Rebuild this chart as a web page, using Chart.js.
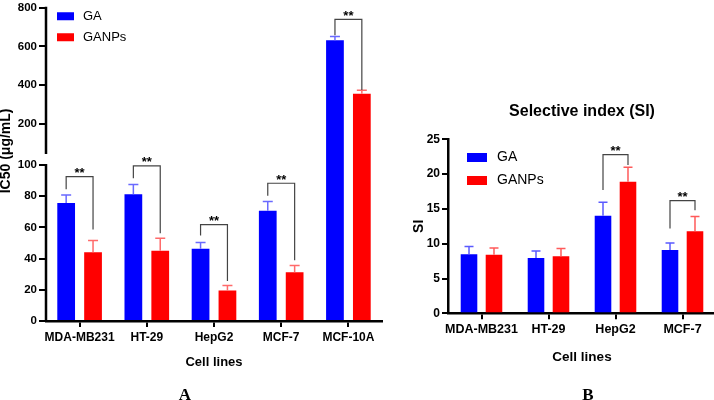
<!DOCTYPE html>
<html>
<head>
<meta charset="utf-8">
<script src="https://cdn.jsdelivr.net/npm/chart.js"></script>
<style>
  html, body { margin: 0; padding: 0; background: #fff; }
  body { width: 714px; height: 400px; overflow: hidden; position: relative; }
  #chartA { position: absolute; left: 0; top: 0; }
  #chartB { position: absolute; left: 390px; top: 0; }
  .panel { position: absolute; width: 40px; text-align: center; line-height: 17px;
           font: bold 17px "Liberation Serif", "Times New Roman", serif; color: #000; }
</style>
</head>
<body>
<canvas id="chartA" width="390" height="400"></canvas>
<canvas id="chartB" width="330" height="400"></canvas>
<div class="panel" style="left:165px; top:385px">A</div>
<div class="panel" style="left:568px; top:385px">B</div>
<script>
// ---- panel A : IC50 ----
const cellLinesA = ['MDA-MB231', 'HT-29', 'HepG2', 'MCF-7', 'MCF-10A'];
const ic50GA = [75.6, 81.3, 46.3, 70.7, 632];
const ic50GANPs = [44.1, 45, 19.5, 31.2, 355];
const sdGA = [5.1, 6.2, 4, 5.9, 19];
const sdGANPs = [7.5, 8, 3.2, 4.3, 18];
const ticksA = [0, 20, 40, 60, 80, 100, 200, 400, 600, 800];
const bracketTopA = [92.6, 99.4, 61.8, 88.3, 740];
const bracketLeftA = [84.5, 91.5, 54.8, 80.3, 658];
const bracketRightA = [58.6, 56.2, 25.7, 38.9, 375];

// ---- panel B : selective index ----
const cellLinesB = ['MDA-MB231', 'HT-29', 'HepG2', 'MCF-7'];
const siGA = [8.5, 7.95, 14.0, 9.1];
const siGANPs = [8.4, 8.2, 18.9, 11.8];
const siSdGA = [1.1, 1.0, 1.95, 1.0];
const siSdGANPs = [1.0, 1.1, 2.1, 2.1];
const bracketTopB = [null, null, 22.8, 16.2];
const bracketLeftB = [null, null, 17.7, 12.2];
const bracketRightB = [null, null, 21.3, 14.8];

const FONT = 'Arial, "Liberation Sans", sans-serif';
Chart.defaults.font.family = FONT;
Chart.defaults.color = '#000';

// y axis with a break: 0-100 on the lower half, 100-800 squeezed on top
class BrokenScale extends Chart.LinearScale {
  buildTicks() {
    return ticksA.map(v => ({ value: v }));
  }
  getPixelForValue(v) {
    const h = this.bottom - this.top;
    const low = h * 0.498, gap = h * 0.07;
    if (v <= 100) return this.bottom - v / 100 * low;
    return this.bottom - low - gap - (v - 100) / (this.max - 100) * (h - low - gap);
  }
  getValueForPixel(p) {
    const h = this.bottom - this.top;
    const low = h * 0.498, gap = h * 0.07;
    const d = this.bottom - p;
    if (d <= low) return d / low * 100;
    return 100 + (d - low - gap) / (h - low - gap) * (this.max - 100);
  }
  drawTitle() {
    // title sits a bit higher than the middle of the axis
    const b = this.bottom;
    this.bottom = b - 27;
    super.drawTitle();
    this.bottom = b;
  }
}
BrokenScale.id = 'broken';
BrokenScale.defaults = {};
Chart.register(BrokenScale);

const marks = {
  id: 'marks',
  afterDatasetsDraw(chart, args, opts) {
    const { ctx } = chart;
    const y = chart.scales.y;
    ctx.save();
    chart.data.datasets.forEach((ds, i) => {
      const meta = chart.getDatasetMeta(i);
      ctx.strokeStyle = ds.errorColor;
      ctx.lineWidth = 1.5;
      meta.data.forEach((bar, j) => {
        const t = y.getPixelForValue(ds.data[j] + ds.errors[j]);
        ctx.beginPath();
        ctx.moveTo(bar.x, bar.y);
        ctx.lineTo(bar.x, t);
        ctx.moveTo(bar.x - opts.cap / 2, t);
        ctx.lineTo(bar.x + opts.cap / 2, t);
        ctx.stroke();
      });
    });
    const ga = chart.getDatasetMeta(0).data, np = chart.getDatasetMeta(1).data;
    ctx.strokeStyle = '#444';
    ctx.lineWidth = 1.2;
    ctx.fillStyle = '#000';
    ctx.font = 'bold 13px ' + FONT;
    ctx.textAlign = 'center';
    ctx.textBaseline = 'alphabetic';
    opts.top.forEach((t, j) => {
      if (t == null) return;
      const yt = y.getPixelForValue(t);
      ctx.beginPath();
      ctx.moveTo(ga[j].x, y.getPixelForValue(opts.left[j]));
      ctx.lineTo(ga[j].x, yt);
      ctx.lineTo(np[j].x, yt);
      ctx.lineTo(np[j].x, y.getPixelForValue(opts.right[j]));
      ctx.stroke();
      ctx.fillText('**', (ga[j].x + np[j].x) / 2, yt + 0.5);
    });
    ctx.restore();
  },
  afterDraw(chart, args, opts) {
    const { ctx, chartArea } = chart;
    const y = chart.scales.y;
    ctx.save();
    if (opts.broken) {
      const y100 = y.getPixelForValue(100);
      ctx.strokeStyle = '#000';
      ctx.lineWidth = 2.5;
      ctx.beginPath();
      ctx.moveTo(chartArea.left, chartArea.top - 1);
      ctx.lineTo(chartArea.left, y100 - 11);
      ctx.moveTo(chartArea.left, y100 - 1);
      ctx.lineTo(chartArea.left, chartArea.bottom + 1);
      ctx.stroke();
    }
    // legend
    const lg = opts.legend;
    ctx.font = lg.size + 'px ' + FONT;
    ctx.textBaseline = 'middle';
    ctx.textAlign = 'left';
    chart.data.datasets.forEach((ds, i) => {
      const x0 = chartArea.left + lg.x;
      const y0 = chartArea.top + lg.y + i * lg.gap;
      ctx.fillStyle = ds.backgroundColor;
      ctx.fillRect(x0, y0 - lg.h / 2, lg.w, lg.h);
      ctx.fillStyle = '#000';
      ctx.fillText(ds.label, x0 + lg.w + lg.textGap, y0);
    });
    ctx.restore();
  }
};

function xAxis(height, tickSize, titleSize, titlePad) {
  return {
    offset: true,
    grid: { display: true, offset: false, drawOnChartArea: false, tickLength: 6, tickColor: '#000', lineWidth: 2 },
    border: { display: true, color: '#000', width: 2.5 },
    ticks: { font: { size: tickSize, weight: 'bold' }, padding: 3, maxRotation: 0, autoSkip: false },
    title: { display: true, text: 'Cell lines', font: { size: titleSize, weight: 'bold' }, padding: { top: 0, bottom: titlePad } },
    afterFit: s => { s.height = height; }
  };
}

new Chart(document.getElementById('chartA'), {
  type: 'bar',
  data: {
    labels: cellLinesA,
    datasets: [
      { label: 'GA', data: ic50GA, errors: sdGA, backgroundColor: '#0000ff', errorColor: '#6a6aff',
        categoryPercentage: 0.8, barPercentage: 0.66 },
      { label: 'GANPs', data: ic50GANPs, errors: sdGANPs, backgroundColor: '#ff0000', errorColor: '#ff6a6a',
        categoryPercentage: 0.8, barPercentage: 0.66 }
    ]
  },
  options: {
    responsive: false,
    animation: false,
    layout: { padding: { left: 0, top: 0, right: 8, bottom: 28 } },
    scales: {
      x: xAxis(51, 12, 13, 2.2),
      y: {
        type: 'broken',
        min: 0,
        max: 800,
        grid: { display: true, drawOnChartArea: false, tickLength: 7, tickColor: '#000', lineWidth: 2 },
        border: { display: false },
        ticks: { font: { size: 11.5, weight: 'bold', lineHeight: 1 }, padding: 2, autoSkip: false, callback: v => String(v) },
        title: { display: true, text: 'IC50 (μg/mL)', font: { size: 14, weight: 'bold', lineHeight: 1 }, padding: { top: -1, bottom: 0 } },
        afterFit: s => { s.width = 46; }
      }
    },
    plugins: {
      legend: { display: false },
      tooltip: { enabled: false },
      marks: {
        cap: 10, broken: true,
        top: bracketTopA, left: bracketLeftA, right: bracketRightA,
        legend: { x: 11, y: 8.5, gap: 21, w: 17, h: 8, textGap: 9, size: 13 }
      }
    }
  },
  plugins: [marks]
});

new Chart(document.getElementById('chartB'), {
  type: 'bar',
  data: {
    labels: cellLinesB,
    datasets: [
      { label: 'GA', data: siGA, errors: siSdGA, backgroundColor: '#0000ff', errorColor: '#5a5aff',
        categoryPercentage: 0.746, barPercentage: 0.664 },
      { label: 'GANPs', data: siGANPs, errors: siSdGANPs, backgroundColor: '#ff0000', errorColor: '#ff5a5a',
        categoryPercentage: 0.746, barPercentage: 0.664 }
    ]
  },
  options: {
    responsive: false,
    animation: false,
    layout: { padding: { left: 0, top: 102.4, right: 4, bottom: 28 } },
    scales: {
      x: xAxis(58.7, 12.5, 13.5, 6.9),
      y: {
        min: 0,
        max: 25,
        grid: { display: true, drawOnChartArea: false, tickLength: 6, tickColor: '#000', lineWidth: 2 },
        border: { display: true, color: '#000', width: 2.5 },
        ticks: { stepSize: 5, font: { size: 12, weight: 'bold', lineHeight: 1 }, padding: 2 },
        title: { display: true, text: 'SI', font: { size: 14, weight: 'bold', lineHeight: 1 }, padding: { top: 22, bottom: 0 } },
        afterFit: s => { s.width = 58; }
      }
    },
    plugins: {
      legend: { display: false },
      tooltip: { enabled: false },
      title: {
        display: true, fullSize: false, text: 'Selective index (SI)',
        font: { size: 16, weight: 'bold' }, color: '#000', padding: { top: 0, bottom: 17.7 }
      },
      marks: {
        cap: 9, broken: false,
        top: bracketTopB, left: bracketLeftB, right: bracketRightB,
        legend: { x: 19, y: 18.2, gap: 23, w: 20, h: 9, textGap: 10, size: 14 }
      }
    }
  },
  plugins: [marks]
});
</script>
</body>
</html>
